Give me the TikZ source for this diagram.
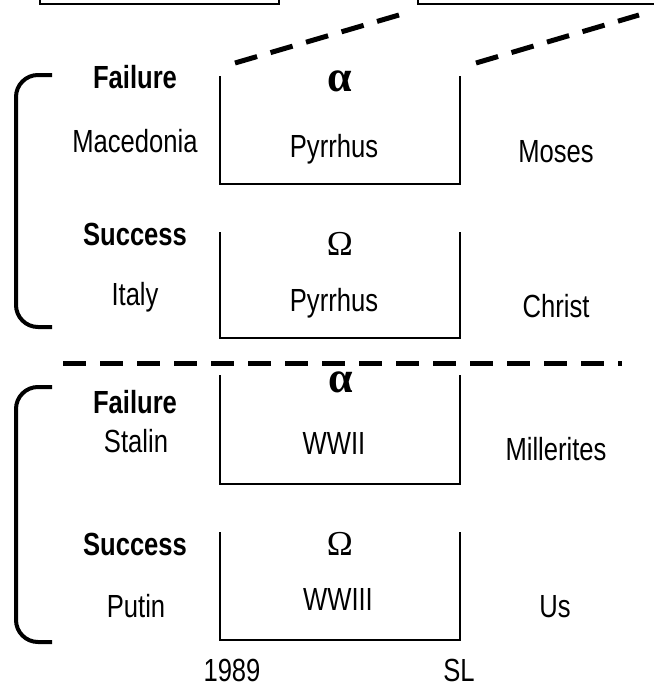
\documentclass[tikz,border=0pt]{standalone}
\usepackage{fontspec}
\setmainfont[FakeStretch=0.8]{Liberation Sans}
\newfontfamily\greekfont{Liberation Serif}
\usetikzlibrary{positioning}

\begin{document}
\begin{tikzpicture}[
    x=1pt,
    y=-1pt,
    font=\fontsize{32}{38}\selectfont,
    word/.style={
		anchor=base,
		inner sep=0pt
	},
	title/.style={
		word,
		font=\fontsize{32}{38}\selectfont\bfseries
	},
	greek/.style={
		anchor=base,
		inner sep=0pt,
		font=\fontsize{35}{40}\selectfont\greekfont
	},
	alphagreek/.style={
		greek,
		font=\fontsize{44}{48}\selectfont\greekfont\bfseries
	},
	frame/.style={
		draw=black,
		line width=2pt
	},
	brace/.style={
		draw=black,
		line width=4pt,
		rounded corners=22pt
	},
	cut/.style={
		draw=black,
		line width=5pt,
		dash pattern=on 23pt off 14pt
	}
  ]

\useasboundingbox (0,0) rectangle (654,689);

% // the frames seen further off
\draw [frame] (40,0) |- (279,4) -- (279,0);
\draw [frame] (418,0) |- (654,4);

\coordinate (near1) at (235,63);
\coordinate (far1)  at (399,15);
\coordinate (near2) at (476,63);
\coordinate (far2)  at (639,15);
\draw [cut] (near1) -- (far1);
\draw [cut] (near2) -- (far2);

% // first period
\draw [brace] (52,75) -- (16,75) -- (16,327) -- (52,327);

\draw [frame] (220,76) |- (460,184) -- (460,76);
\draw [frame] (220,232) |- (460,338) -- (460,232);

 \node [title] (fail1) at (135,88)  {Failure};
 \node [word]  (mace)  at (135,152) {Macedonia};
 \node [title] (succ1) at (135,245) {Success};
 \node [word]  (italy) at (135,305) {Italy};

 \node [alphagreek] (alpha1) at (340,91) {α};
 \node [word]  (pyr1)   at (334,157) {Pyrrhus};
 \node [greek] (omega1) at (340,255) {Ω};
 \node [word]  (pyr2)   at (334,311) {Pyrrhus};

 \node [word] (moses)  at (556,162) {Moses};
 \node [word] (christ) at (556,317) {Christ};

% // divider
\coordinate (cutL) at (63,363);
\coordinate (cutR) at (622,363);
\draw [cut] (cutL) -- (cutR);

% // second period
\draw [brace] (52,387) -- (16,387) -- (16,642) -- (52,642);

\draw [frame] (220,375) |- (460,484) -- (460,375);
\draw [frame] (220,532) |- (460,640) -- (460,532);

 \node [title] (fail2)  at (135,413) {Failure};
 \node [word]  (stalin) at (136,452) {Stalin};
 \node [title] (succ2)  at (135,555) {Success};
 \node [word]  (putin)  at (136,617) {Putin};

 \node [alphagreek] (alpha2) at (341,392) {α};
 \node [word]  (ww2)    at (334,454) {WWII};
 \node [greek] (omega2) at (340,555) {Ω};
 \node [word]  (ww3)    at (338,610) {WWIII};

 \node [word] (miller) at (556,460) {Millerites};
 \node [word] (us)     at (555,617) {Us};

% // time marks
 \node [word] (start) at (232,681) {1989};
 \node [word] (end)   at (459,681) {SL};

\end{tikzpicture}
\end{document}
